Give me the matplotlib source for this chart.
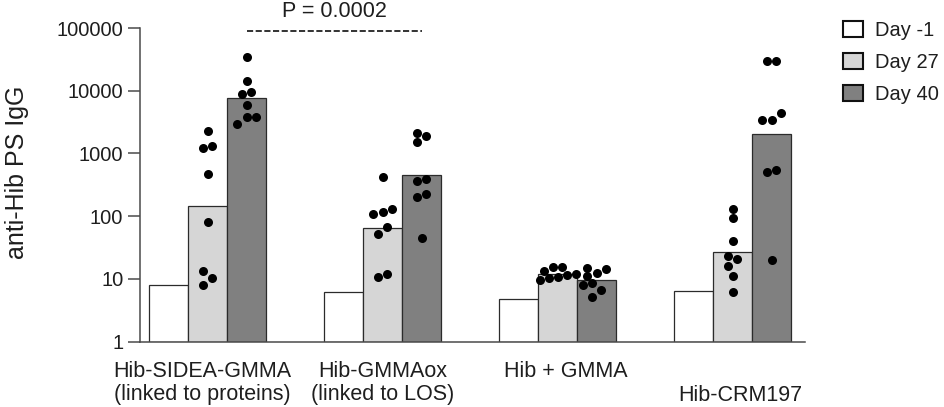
import numpy as np
import matplotlib
matplotlib.use('Agg')
import matplotlib.pyplot as plt
from matplotlib.patches import Patch
from matplotlib import transforms

plt.rcParams['font.family'] = ['Liberation Sans', 'DejaVu Sans']

groups = ['Hib-SIDEA-GMMA\n(linked to proteins)', 'Hib-GMMAox\n(linked to LOS)',
          'Hib + GMMA', 'Hib-CRM197']
days = ['Day -1', 'Day 27', 'Day 40']

# bar heights (group means)
day_m1 = [8.0, 6.2, 4.8, 6.5]
day27 = [146, 65, 11.9, 27]
day40 = [7550, 460, 9.5, 2020]

# single animals
pts27 = [
    [2320, 1340, 1210, 476, 81, 13.5, 10.4, 8.0],
    [416, 132, 116, 108, 67, 52, 12, 10.9],
    [15.7, 15.3, 13.4, 12.1, 11.6, 10.9, 10.5, 9.6],
    [129, 92, 40, 23, 21, 16.3, 11.2, 6.1],
]
pts40 = [
    [34600, 14400, 9530, 8870, 5930, 3870, 3770, 2960],
    [2100, 1910, 1530, 387, 359, 226, 200, 45],
    [15, 14.6, 12.3, 11.2, 8.5, 7.9, 6.7, 5.1],
    [30000, 29800, 4360, 3470, 3460, 551, 505, 20.2],
]
p_text = 'P = 0.0002'

colors = ['#ffffff', '#d6d6d6', '#808080']
edge = '#2b2b2b'
txt = '#1e1e1e'
W, H = 945, 407
w = 0.223

fig = plt.figure(figsize=(W / 100, H / 100), dpi=100)
ax = fig.add_axes([140 / W, 1 - 341.7 / H, (805 - 140) / W, (341.7 - 28) / H])
ax.set_yscale('log')
ax.set_ylim(1, 1e5)
ax.set_xlim(-0.386, 3.414)

x = np.arange(len(groups))
for k, vals in enumerate([day_m1, day27, day40]):
    v = np.array(vals)
    ax.bar(x + (k - 1) * w, v - 1, bottom=1, width=w, color=colors[k],
           edgecolor=edge, linewidth=0.9, label=days[k], zorder=2)

# pixel scales for the dot layout
px_x = W * ax.get_position().width / (ax.get_xlim()[1] - ax.get_xlim()[0])
px_y = H * ax.get_position().height / 5


def swarm(vals, d=8.5, s=9.2, r=7.5, lim=18):
    vals = np.array(vals, float)
    ys = np.log10(vals) * px_y
    idx = list(np.argsort(vals))
    offs = np.zeros(len(vals))
    placed = []
    i = 0
    while i < len(idx):
        j = i + 1
        while j < len(idx) and ys[idx[j]] - ys[idx[i]] <= r:
            j += 1
        cl = idx[i:j]
        n = len(cl)
        base = (np.arange(n) - (n - 1) / 2) * s
        cands = []
        for sc in (1, 2):
            for sh in (0, -s / 2, s / 2, -s, s):
                c = base * sc + sh
                if np.abs(c).max() <= lim:
                    cands.append(c)
        if not cands:
            cands = [base * lim / np.abs(base).max()]
        best, bestd = cands[0], -1
        for c in cands:
            md = min((np.hypot(cx - qx, ys[kk] - qy) for cx, kk in zip(c, cl)
                      for qx, qy in placed), default=1e9)
            if md >= d:
                best = c
                break
            if md > bestd:
                best, bestd = c, md
        for cx, kk in zip(best, cl):
            offs[kk] = cx
            placed.append((cx, ys[kk]))
        i = j
    return offs / px_x


for k, pts in [(1, pts27), (2, pts40)]:
    for g, vals in enumerate(pts):
        ax.plot(g + (k - 1) * w + swarm(vals), vals, 'o', color='black',
                markersize=6.5, markeredgewidth=0, zorder=3, clip_on=False)

for side in ['top', 'right']:
    ax.spines[side].set_visible(False)
for side in ['left', 'bottom']:
    ax.spines[side].set_color('#4a4a4a')
    ax.spines[side].set_linewidth(1.1)

ax.set_yticks([1, 10, 100, 1000, 10000, 100000])
ax.set_yticklabels(['1', '10', '100', '1000', '10000', '100000'])
ax.yaxis.set_minor_locator(matplotlib.ticker.NullLocator())
ax.tick_params(axis='y', length=8.5, width=1.1, color='#4a4a4a', pad=3.5,
               labelsize=14.5, labelcolor=txt)
ax.set_xticks([])

ax.set_ylabel('anti-Hib PS IgG', fontsize=18, color=txt)
ax.yaxis.set_label_coords(29 / W, 1 - 172 / H, transform=fig.transFigure)

# group names under the axis
bt = transforms.blended_transform_factory(ax.transData, fig.transFigure)
lab_dx = [-0.03, 0.0, 0.045, 0.045]
lab_top = [361, 361, 361, 385]
for g, name in enumerate(groups):
    ax.text(g + lab_dx[g], 1 - lab_top[g] / H, name, transform=bt, ha='center',
            va='top', fontsize=15.5, color=txt, linespacing=1.14)

# significance bar between the day 40 bars of the first two groups
ax.plot([0 + w, 1 + w], [9.0e4, 9.0e4], color='#222222', linewidth=1.3,
        linestyle=(0, (3.4, 1.4)), clip_on=False, zorder=4)
ax.text(0.5 + w, 1 - 17 / H, p_text, transform=bt, ha='center', va='baseline',
        fontsize=15.5, color=txt)

handles = [Patch(facecolor=c, edgecolor='#111111', linewidth=1.5) for c in colors]
ax.legend(handles, days, loc='upper left', bbox_to_anchor=(843 / W, 1 - 21 / H),
          bbox_transform=fig.transFigure, frameon=False, fontsize=14.5,
          handlelength=1.0, handleheight=0.85, handletextpad=0.6,
          labelspacing=0.64, borderpad=0, borderaxespad=0, labelcolor=txt)

fig.savefig('out.png', dpi=100)
